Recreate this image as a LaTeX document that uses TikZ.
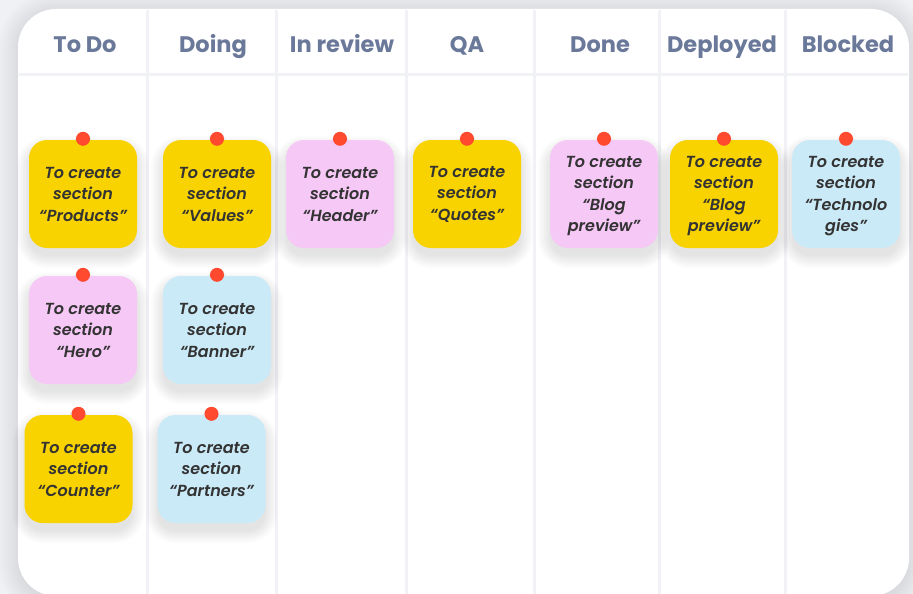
\documentclass[tikz,border=0pt]{standalone}
\usepackage{fontspec}
\newfontfamily\hdrfont{Poppins Bold}
\newfontfamily\cardfont{Poppins SemiBold Italic}
\definecolor{bgc}{HTML}{EFF1F5}
\definecolor{divc}{HTML}{F1F2F5}
\definecolor{hdrc}{HTML}{6A7899}
\definecolor{txtc}{HTML}{333333}
\definecolor{yel}{HTML}{F8D300}
\definecolor{pnk}{HTML}{F6C8F6}
\definecolor{blu}{HTML}{CBEAF7}
\definecolor{pinc}{HTML}{FF4A2F}
\tikzset{
  hdr/.style={font=\hdrfont\fontsize{22.5}{26}\selectfont, text=hdrc, anchor=base},
  card/.style={rounded corners=18pt, minimum width=108pt, minimum height=108pt,
    inner sep=0pt, align=center, text=txtc,
    font=\cardfont\fontsize{16}{21.5}\selectfont},
  yc/.style={card, fill=yel},
  pc/.style={card, fill=pnk},
  bc/.style={card, fill=blu},
  fourline/.style={text depth=-2pt},
  pin/.style={circle, fill=pinc, minimum size=14pt, inner sep=0pt},
  divline/.style={draw=divc, line width=3pt},
  shadowpiece/.style={fill=black, opacity=0.011}
}
\newcommand\cardshadow[1]{%
  \foreach \k in {0,1.5,...,12} {%
    \fill[shadowpiece, rounded corners={18pt+\k pt}]
      ([xshift=-54pt-\k pt, yshift=54pt+\k pt-8pt]#1) rectangle
      ([xshift=54pt+\k pt, yshift=-54pt-\k pt-8pt]#1);
  }%
  \foreach \k in {0,1,...,4} {%
    \fill[black, opacity=0.02] ([yshift=55pt-3pt]#1) circle ({7pt+\k pt*0.6});
  }%
}
\begin{document}
\begin{tikzpicture}[x=1pt,y=-1pt]
\useasboundingbox (0,0) rectangle (913,594);
\fill[bgc] (0,0) rectangle (913,594);
% board shadow
\begin{scope}
\clip (0,0) rectangle (913,594);
\foreach \k in {0,2,...,20} {
  \fill[black, opacity=0.006, rounded corners={38pt+\k pt}] (18-\k,9-\k+2) rectangle (909+\k,600+\k);
}
\fill[white, rounded corners=38pt] (18,9) rectangle (909,596);
\end{scope}
% dividers
\coordinate (v1t) at (147,10); \coordinate (v1b) at (147,594);
\coordinate (v2t) at (276,10); \coordinate (v2b) at (276,594);
\coordinate (v3t) at (406,10); \coordinate (v3b) at (406,594);
\coordinate (v4t) at (534,10); \coordinate (v4b) at (534,594);
\coordinate (v5t) at (659,10); \coordinate (v5b) at (659,594);
\coordinate (v6t) at (785,10); \coordinate (v6b) at (785,594);
\coordinate (hl) at (19,75); \coordinate (hr) at (908,75);
\foreach \i in {1,...,6} {\draw[divline] (v\i t) -- (v\i b);}
\draw[divline] (hl) -- (hr);
% headers
\node[hdr] (h1) at (85,53) {To Do};
\node[hdr] (h2) at (213,53) {Doing};
\node[hdr] (h3) at (342,53) {In review};
\node[hdr] (h4) at (467,53) {QA};
\node[hdr] (h5) at (600,53) {Done};
\node[hdr] (h6) at (722,53) {Deployed};
\node[hdr] (h7) at (848,53) {Blocked};
% card positions
\coordinate (k1) at (83,194);
\coordinate (k2) at (217,194);
\coordinate (k3) at (340,194);
\coordinate (k4) at (467,194);
\coordinate (k5) at (604,194);
\coordinate (k6) at (724,194);
\coordinate (k7) at (846,194);
\coordinate (k8) at (83,330);
\coordinate (k9) at (217,330);
\coordinate (k10) at (78.5,469);
\coordinate (k11) at (211.5,469);
\foreach \c in {1,...,11} {\cardshadow{k\c}}
% cards
\node[yc] (c1) at (k1) {To create\\section\\“Products”};
\node[yc] (c2) at (k2) {To create\\section\\“Values”};
\node[pc] (c3) at (k3) {To create\\section\\“Header”};
\node[yc] (c4) at (k4) {To create\\section\\“Quotes”};
\node[pc, fourline] (c5) at (k5) {To create\\section\\“Blog\\preview”};
\node[yc, fourline] (c6) at (k6) {To create\\section\\“Blog\\preview”};
\node[bc, fourline] (c7) at (k7) {To create\\section\\“Technolo\\gies”};
\node[pc] (c8) at (k8) {To create\\section\\“Hero”};
\node[bc] (c9) at (k9) {To create\\section\\“Banner”};
\node[yc] (c10) at (k10) {To create\\section\\“Counter”};
\node[bc] (c11) at (k11) {To create\\section\\“Partners”};
% pins
\foreach \c in {1,...,11} {\node[pin] (p\c) at ([yshift=1pt]c\c.north) {};}
\end{tikzpicture}
\end{document}
